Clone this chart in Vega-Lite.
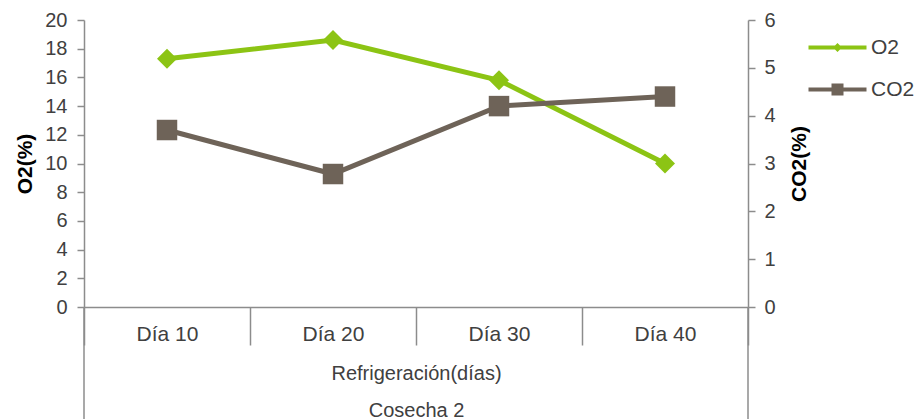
{
  "$schema": "https://vega.github.io/schema/vega-lite/v6.json",
  "width": 664,
  "height": 287,
  "autosize": {"type": "none"},
  "padding": {"left": 84, "top": 20, "right": 168, "bottom": 112},
  "background": "white",
  "config": {
    "view": {"stroke": null},
    "font": "Liberation Sans",
    "axis": {
      "labelFont": "Liberation Sans",
      "titleFont": "Liberation Sans",
      "labelFontSize": 21,
      "labelColor": "#404040",
      "titleColor": "#000000",
      "domainColor": "#8c8c8c",
      "tickColor": "#8c8c8c",
      "domainWidth": 1.5,
      "tickWidth": 1.5,
      "labelOverlap": false,
      "grid": false
    }
  },
  "datasets": {
    "gases": [
      {"dia": "Día 10", "O2": 17.3, "CO2": 3.7},
      {"dia": "Día 20", "O2": 18.6, "CO2": 2.78},
      {"dia": "Día 30", "O2": 15.8, "CO2": 4.2},
      {"dia": "Día 40", "O2": 10.0, "CO2": 4.4}
    ],
    "bordes": [
      {"dia": "Día 10", "O2": -8, "O2b": 0},
      {"dia": "Día 40", "O2": -8, "O2b": 0}
    ]
  },
  "layer": [
    {
      "layer": [
        {
          "data": {"name": "gases"},
          "mark": {"type": "line", "strokeWidth": 5, "point": {"shape": "diamond", "size": 400, "filled": true, "opacity": 1}},
          "encoding": {
            "x": {
              "field": "dia",
              "type": "nominal",
              "bandPosition": 0.5,
              "scale": {"type": "band", "domain": ["Día 10", "Día 20", "Día 30", "Día 40"], "paddingInner": 0, "paddingOuter": 0},
              "axis": {
                "title": ["Refrigeración(días)", "Cosecha 2"],
                "titleFontSize": 20,
                "titleFontWeight": "normal",
                "titleColor": "#404040",
                "titleLineHeight": 37,
                "titleBaseline": "top",
                "titlePadding": 18,
                "labelAngle": 0,
                "tickBand": "extent",
                "tickSize": 38,
                "labelPadding": -22,
                "labelBaseline": "top"
              }
            },
            "y": {
              "field": "O2",
              "type": "quantitative",
              "scale": {"domain": [0, 20], "nice": false, "zero": false},
              "axis": {
                "title": "O2(%)",
                "values": [0, 2, 4, 6, 8, 10, 12, 14, 16, 18, 20],
                "tickCount": 11,
                "labelOverlap": false,
                "labelFontSize": 20,
                "tickSize": 7,
                "labelPadding": 10,
                "titleFontSize": 21,
                "titleFontWeight": "bold",
                "titlePadding": 9
              }
            },
            "color": {
              "datum": "O2",
              "type": "nominal",
              "scale": {"domain": ["O2", "CO2"], "range": ["#8CC414", "#6E6358"]},
              "legend": {
                "orient": "none",
                "legendX": 743,
                "legendY": 17,
                "title": null,
                "labelFont": "Liberation Sans",
                "labelFontSize": 21,
                "labelColor": "#404040",
                "symbolSize": 400,
                "labelOffset": 23,
                "rowPadding": 20,
                "padding": 0,
                "encode": {
                  "symbols": {
                    "update": {
                      "shape": {"signal": "datum.value === 'O2' ? 'M-2.9,-0.2H2.9V0.2H-2.9Z M0,-0.45L0.45,0L0,0.45L-0.45,0Z' : 'M-2.9,-0.2H2.9V0.2H-2.9Z M-0.6,-0.6H0.6V0.6H-0.6Z'"},
                      "fill": {"signal": "datum.value === 'O2' ? '#8CC414' : '#6E6358'"},
                      "stroke": {"value": "transparent"},
                      "strokeWidth": {"value": 0},
                      "opacity": {"value": 1}
                    }
                  }
                }
              }
            }
          }
        },
        {
          "data": {"name": "bordes"},
          "mark": {"type": "rule", "color": "#8c8c8c", "strokeWidth": 1.5},
          "encoding": {
            "x": {"field": "dia", "type": "nominal", "bandPosition": 0},
            "y": {
              "field": "O2",
              "type": "quantitative",
              "axis": {
                "title": "O2(%)",
                "values": [0, 2, 4, 6, 8, 10, 12, 14, 16, 18, 20],
                "tickCount": 11,
                "labelOverlap": false,
                "labelFontSize": 20,
                "tickSize": 7,
                "labelPadding": 10,
                "titleFontSize": 21,
                "titleFontWeight": "bold",
                "titlePadding": 9
              }
            },
            "y2": {"field": "O2b"}
          },
          "transform": [{"filter": "datum.dia === 'Día 10'"}]
        },
        {
          "data": {"name": "bordes"},
          "mark": {"type": "rule", "color": "#8c8c8c", "strokeWidth": 1.5},
          "encoding": {
            "x": {"field": "dia", "type": "nominal", "bandPosition": 1},
            "y": {
              "field": "O2",
              "type": "quantitative",
              "axis": {
                "title": "O2(%)",
                "values": [0, 2, 4, 6, 8, 10, 12, 14, 16, 18, 20],
                "tickCount": 11,
                "labelOverlap": false,
                "labelFontSize": 20,
                "tickSize": 7,
                "labelPadding": 10,
                "titleFontSize": 21,
                "titleFontWeight": "bold",
                "titlePadding": 9
              }
            },
            "y2": {"field": "O2b"}
          },
          "transform": [{"filter": "datum.dia === 'Día 40'"}]
        }
      ]
    },
    {
      "data": {"name": "gases"},
      "mark": {"type": "line", "strokeWidth": 5, "point": {"shape": "square", "size": 420, "filled": true, "opacity": 1}},
      "encoding": {
        "x": {"field": "dia", "type": "nominal", "bandPosition": 0.5},
        "y": {
          "field": "CO2",
          "type": "quantitative",
          "scale": {"domain": [0, 6], "nice": false, "zero": false},
          "axis": {
            "orient": "right",
            "title": "CO2(%)",
            "values": [0, 1, 2, 3, 4, 5, 6],
            "labelFontSize": 20,
            "tickSize": 7,
            "labelPadding": 9,
            "titleFontSize": 21,
            "titleFontWeight": "bold",
            "titleAngle": -90,
            "titlePadding": 34
          }
        },
        "color": {"datum": "CO2", "type": "nominal"}
      }
    }
  ],
  "resolve": {"scale": {"y": "independent"}}
}
